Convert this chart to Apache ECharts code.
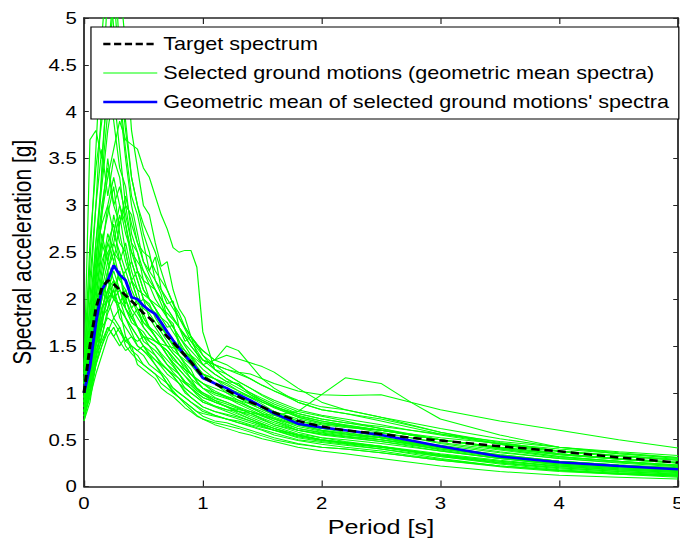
<!DOCTYPE html>
<html>
<head>
<meta charset="utf-8">
<script src="https://cdn.jsdelivr.net/npm/echarts@6/dist/echarts.min.js"></script>
<style>
html,body{margin:0;padding:0;background:#fff;overflow:hidden;width:680px;height:545px;}
#c{width:566.67px;height:545px;transform:scaleX(1.2);transform-origin:0 0;}
</style>
</head>
<body>
<div id="c"></div>
<script>
// ---- data ----
const periods = [0, 0.05, 0.1, 0.15, 0.2, 0.25, 0.3, 0.35, 0.4, 0.45, 0.5, 0.55, 0.6, 0.65, 0.7, 0.75, 0.8, 0.85, 0.9, 0.95, 1.0, 1.1, 1.2, 1.3, 1.4, 1.5, 1.6, 1.8, 2.0, 2.2, 2.5, 2.75, 3.0, 3.5, 4.0, 4.5, 5.0];

const targetSpectrum = [1.0,1.5,1.9,2.12,2.2,2.16,2.1,2.04,1.98,1.92,1.85,1.8,1.74,1.67,1.6,1.54,1.47,1.4,1.33,1.25,1.17,1.1,1.03,0.96,0.9,0.85,0.79,0.7,0.64,0.6,0.56,0.52,0.49,0.43,0.375,0.31,0.255];
const meanSpectrum = [1.0,1.28,1.75,2.1,2.2,2.36,2.26,2.2,2.02,2.0,1.93,1.88,1.84,1.75,1.65,1.56,1.48,1.4,1.33,1.25,1.16,1.1,1.05,0.98,0.92,0.85,0.78,0.67,0.63,0.6,0.55,0.49,0.43,0.32,0.26,0.22,0.185];

const gm01 = [0.95,2.4,3.6,4.8,5.6,4.9,4.2,3.6,3.1,2.9,2.6,2.3,2.45,2.1,1.95,1.98,1.7,1.55,1.6,1.42,1.3,1.2,1.12,1.1,0.98,0.9,0.85,0.74,0.68,0.64,0.58,0.52,0.46,0.37,0.3,0.25,0.21];
const gm02 = [1.1,2.0,3.0,4.1,5.3,5.8,4.6,3.9,3.3,3.0,2.7,2.5,2.2,2.05,1.8,1.74,1.5,1.45,1.38,1.26,1.2,1.1,1.02,0.95,0.88,0.82,0.76,0.66,0.6,0.56,0.5,0.45,0.39,0.3,0.23,0.19,0.16];
const gm03 = [0.85,1.5,2.3,3.4,4.4,5.2,5.4,4.7,3.8,3.4,3.0,2.9,2.6,2.35,2.4,2.1,1.9,1.8,1.6,1.52,1.4,1.25,1.15,1.08,1.0,0.92,0.86,0.75,0.7,0.65,0.6,0.55,0.5,0.42,0.35,0.3,0.26];
const gm04 = [1.2,3.7,3.8,3.5,4.3,3.9,3.4,3.2,2.7,2.5,2.2,2.0,1.9,1.75,1.6,1.52,1.4,1.3,1.2,1.12,1.05,0.95,0.9,0.84,0.78,0.72,0.66,0.58,0.52,0.48,0.43,0.38,0.33,0.26,0.2,0.16,0.13];
const gm05 = [0.9,1.6,2.2,2.9,3.3,3.6,3.9,3.7,3.65,3.6,3.4,3.3,3.1,2.9,2.75,2.55,2.5,2.52,2.52,2.34,1.65,1.25,1.2,1.12,1.05,0.97,0.9,0.8,0.75,0.7,0.62,0.55,0.5,0.4,0.32,0.27,0.23];
const gm06 = [1.0,1.7,2.6,3.2,3.8,4.2,3.6,3.0,2.9,2.6,2.5,2.45,2.3,2.2,2.1,1.95,1.85,1.7,1.6,1.5,1.45,1.35,1.5,1.45,1.3,1.15,1.05,0.9,0.82,0.78,0.7,0.63,0.56,0.46,0.38,0.33,0.29];
const gm07 = [0.75,0.95,1.2,1.4,1.6,1.7,1.55,1.45,1.5,1.3,1.25,1.2,1.15,1.05,1.0,0.96,0.9,0.84,0.8,0.75,0.72,0.68,0.65,0.62,0.58,0.54,0.5,0.45,0.42,0.4,0.36,0.32,0.28,0.21,0.16,0.13,0.1];
const gm08 = [0.8,1.1,1.5,1.9,2.0,1.8,1.9,1.6,1.5,1.45,1.4,1.3,1.25,1.2,1.1,1.0,0.95,0.9,0.85,0.8,0.78,0.75,0.72,0.7,0.66,0.63,0.6,0.55,0.5,0.46,0.42,0.38,0.34,0.27,0.22,0.18,0.15];
const gm09 = [1.05,1.3,1.7,2.2,2.6,2.4,2.8,3.0,2.6,2.3,2.1,2.0,1.9,1.8,1.7,1.72,1.55,1.38,1.4,1.28,1.2,1.1,1.0,0.92,0.85,0.78,0.72,0.62,0.58,0.55,0.52,0.48,0.44,0.36,0.3,0.26,0.22];
const gm10 = [0.9,1.25,1.6,1.8,2.3,2.5,2.2,2.1,1.9,2.0,1.8,1.7,1.6,1.5,1.45,1.35,1.3,1.25,1.2,1.14,1.1,1.0,0.95,0.88,0.82,0.76,0.7,0.6,0.56,0.53,0.5,0.46,0.42,0.34,0.27,0.23,0.2];
const gm11 = [1.3,2.2,3.0,3.6,3.1,3.5,3.3,2.8,2.4,2.2,2.0,1.8,1.7,1.6,1.5,1.42,1.35,1.25,1.15,1.05,1.0,0.92,0.85,0.78,0.72,0.67,0.62,0.55,0.5,0.47,0.42,0.37,0.32,0.24,0.18,0.14,0.12];
const gm12 = [0.7,0.9,1.3,1.6,1.9,2.1,1.8,1.7,1.6,1.55,1.6,1.55,1.5,1.42,1.35,1.28,1.2,1.1,1.05,1.0,0.95,0.9,0.85,0.82,0.8,0.76,0.72,0.66,0.62,0.6,0.57,0.52,0.47,0.39,0.31,0.27,0.23];
const gm13 = [1.0,1.5,2.1,2.7,2.4,2.9,2.6,2.5,2.2,2.0,1.9,1.85,1.75,1.65,1.55,1.45,1.4,1.32,1.25,1.12,1.05,1.0,0.96,0.92,0.88,0.82,0.78,0.7,0.66,0.63,0.6,0.56,0.52,0.46,0.4,0.35,0.31];
const gm14 = [0.95,1.2,1.6,2.0,2.2,2.0,2.3,1.9,1.8,1.7,1.65,1.55,1.5,1.4,1.3,1.22,1.15,1.05,1.0,0.95,0.9,0.85,0.8,0.75,0.7,0.65,0.6,0.52,0.48,0.45,0.4,0.35,0.3,0.22,0.17,0.13,0.11];
const gm15 = [1.15,1.8,2.5,2.8,3.0,2.7,2.5,2.3,2.4,2.2,2.0,1.95,1.8,1.7,1.6,1.5,1.4,1.35,1.3,1.22,1.15,1.1,1.05,1.0,0.95,0.9,0.85,0.78,0.72,0.68,0.64,0.6,0.56,0.48,0.42,0.37,0.33];
const gm16 = [0.85,1.0,1.35,1.7,2.1,2.3,2.1,1.9,1.75,1.7,1.6,1.5,1.4,1.3,1.25,1.18,1.1,1.0,0.95,0.9,0.85,0.8,0.76,0.72,0.68,0.64,0.6,0.53,0.49,0.46,0.42,0.38,0.34,0.27,0.21,0.17,0.14];
const gm17 = [1.0,1.4,1.9,2.4,2.6,2.8,2.4,2.6,2.3,2.1,2.05,2.0,1.9,1.8,1.75,1.65,1.55,1.45,1.35,1.28,1.2,1.15,1.1,1.02,0.95,0.88,0.8,0.7,0.64,0.6,0.53,0.47,0.42,0.33,0.27,0.23,0.19];
const gm18 = [0.8,1.2,1.7,2.0,2.3,2.0,1.95,2.1,1.9,1.8,1.7,1.62,1.55,1.5,1.45,1.38,1.3,1.22,1.15,1.1,1.05,0.98,0.94,0.9,0.84,0.78,0.73,0.64,0.59,0.56,0.52,0.47,0.42,0.33,0.26,0.22,0.18];
const gm19 = [1.1,1.6,2.0,2.5,3.0,3.3,3.0,2.7,2.5,2.4,2.3,2.15,2.0,1.9,1.8,1.7,1.6,1.52,1.45,1.38,1.3,1.2,1.12,1.05,0.98,0.92,0.86,0.76,0.7,0.66,0.6,0.55,0.5,0.41,0.34,0.29,0.25];
const gm20 = [0.9,1.1,1.5,1.8,1.9,2.2,2.0,1.8,1.65,1.5,1.45,1.38,1.3,1.22,1.15,1.05,1.0,0.95,0.9,0.86,0.82,0.76,0.72,0.68,0.64,0.6,0.55,0.49,0.45,0.42,0.38,0.33,0.29,0.22,0.17,0.14,0.11];
const gm21 = [1.0,1.3,1.8,2.2,2.5,2.6,2.9,2.5,2.2,2.3,2.1,2.0,1.95,1.9,1.85,1.78,1.7,1.6,1.5,1.42,1.35,1.3,1.25,1.2,1.15,1.08,1.02,0.9,0.82,0.78,0.72,0.65,0.58,0.47,0.38,0.33,0.28];
const gm22 = [0.85,1.2,1.55,1.9,2.1,2.0,1.9,1.8,1.7,1.6,1.5,1.42,1.35,1.28,1.2,1.15,1.1,1.05,1.0,0.95,0.9,0.86,0.82,0.8,0.78,0.77,0.76,0.8,0.98,1.16,1.1,0.9,0.72,0.55,0.42,0.35,0.3];
const gm23 = [0.75,1.0,1.4,1.55,1.7,1.6,1.5,1.6,1.45,1.4,1.3,1.25,1.2,1.1,1.05,1.0,0.95,0.9,0.85,0.8,0.75,0.7,0.68,0.64,0.6,0.56,0.52,0.46,0.42,0.4,0.36,0.32,0.28,0.22,0.17,0.14,0.12];
const gm24 = [1.2,1.9,2.6,3.3,4.0,4.6,4.1,3.5,3.0,2.7,2.4,2.25,2.1,1.95,1.8,1.7,1.6,1.5,1.4,1.32,1.25,1.15,1.05,0.98,0.9,0.84,0.78,0.68,0.62,0.58,0.52,0.46,0.41,0.32,0.25,0.21,0.17];
const gm25 = [0.95,1.3,1.65,2.1,2.4,2.2,2.1,2.0,1.8,1.9,1.75,1.7,1.65,1.58,1.5,1.42,1.35,1.28,1.2,1.15,1.1,1.05,1.0,0.95,0.9,0.85,0.8,0.72,0.67,0.64,0.6,0.55,0.5,0.42,0.35,0.3,0.26];
const gm26 = [1.05,1.45,2.0,2.6,2.9,3.2,2.7,2.4,2.2,2.1,1.85,1.7,1.6,1.5,1.4,1.32,1.25,1.18,1.12,1.05,1.0,0.94,0.9,0.85,0.8,0.75,0.7,0.62,0.57,0.54,0.5,0.45,0.4,0.31,0.24,0.2,0.17];
const gm27 = [0.8,1.05,1.4,1.75,2.0,2.1,2.3,2.0,1.85,1.7,1.55,1.5,1.45,1.38,1.3,1.25,1.2,1.12,1.08,1.02,0.98,0.9,0.85,0.8,0.74,0.69,0.64,0.56,0.52,0.5,0.46,0.42,0.38,0.3,0.24,0.2,0.17];
const gm28 = [1.0,1.6,2.3,2.6,2.4,2.7,3.0,2.8,2.5,2.3,2.2,2.15,2.1,2.0,1.9,1.8,1.7,1.6,1.5,1.42,1.35,1.3,1.25,1.22,1.2,1.15,1.1,1.02,0.98,0.97,0.98,0.9,0.82,0.7,0.6,0.5,0.41];
const gm29 = [0.9,1.2,1.5,1.7,1.8,1.75,1.65,1.55,1.6,1.5,1.45,1.4,1.35,1.3,1.25,1.2,1.15,1.1,1.05,1.0,0.95,0.9,0.86,0.8,0.76,0.71,0.66,0.6,0.56,0.53,0.48,0.44,0.4,0.33,0.27,0.23,0.2];
const gm30 = [1.1,1.5,2.2,2.9,3.5,3.0,3.2,2.9,2.6,2.5,2.3,2.2,2.1,2.0,1.9,1.8,1.7,1.62,1.55,1.48,1.4,1.3,1.2,1.12,1.05,0.98,0.92,0.82,0.76,0.72,0.66,0.6,0.55,0.45,0.37,0.32,0.28];
const gm31 = [0.7,1.0,1.3,1.5,1.65,1.8,1.7,1.5,1.42,1.35,1.3,1.25,1.2,1.15,1.1,1.05,1.0,0.95,0.9,0.85,0.8,0.76,0.72,0.68,0.65,0.61,0.57,0.5,0.47,0.44,0.4,0.36,0.32,0.25,0.2,0.16,0.13];
const gm32 = [1.25,2.6,3.4,3.9,4.6,5.3,4.4,3.8,3.3,3.0,2.8,2.65,2.5,2.3,2.1,1.95,1.8,1.68,1.55,1.45,1.35,1.25,1.15,1.08,1.0,0.94,0.88,0.78,0.72,0.68,0.62,0.56,0.5,0.4,0.32,0.27,0.22];
const gm33 = [0.9,1.35,1.8,2.3,2.7,2.5,2.4,2.2,2.0,1.9,1.7,1.62,1.55,1.5,1.45,1.38,1.3,1.25,1.2,1.15,1.1,1.02,0.96,0.9,0.85,0.8,0.74,0.66,0.6,0.57,0.52,0.47,0.42,0.34,0.27,0.22,0.19];
const gm34 = [1.0,1.4,1.85,2.2,2.0,2.4,2.2,2.3,2.1,1.95,2.0,1.92,1.85,1.72,1.6,1.52,1.45,1.38,1.3,1.25,1.2,1.15,1.08,1.02,0.96,0.9,0.84,0.74,0.68,0.65,0.6,0.55,0.5,0.41,0.34,0.29,0.25];
const gm35 = [0.8,1.15,1.45,1.6,1.85,2.0,2.1,1.95,2.2,2.0,1.8,1.7,1.6,1.5,1.4,1.32,1.25,1.18,1.1,1.04,0.98,0.92,0.88,0.83,0.78,0.73,0.68,0.6,0.55,0.52,0.48,0.43,0.38,0.3,0.23,0.19,0.16];
const gm36 = [1.1,1.7,2.4,3.0,3.4,3.0,2.8,3.1,2.8,2.6,2.4,2.3,2.2,2.1,2.0,1.9,1.8,1.7,1.6,1.52,1.45,1.35,1.3,1.22,1.15,1.08,1.02,0.92,0.85,0.82,0.74,0.68,0.62,0.51,0.42,0.36,0.31];
const gm37 = [0.75,1.0,1.3,1.5,1.7,1.6,1.7,1.55,1.5,1.45,1.5,1.45,1.4,1.32,1.25,1.18,1.1,1.02,0.95,0.9,0.85,0.8,0.77,0.74,0.7,0.66,0.62,0.55,0.5,0.47,0.43,0.39,0.35,0.28,0.22,0.18,0.15];
const gm38 = [0.95,1.3,1.75,2.0,2.3,2.6,2.4,2.2,2.0,1.85,1.75,1.68,1.6,1.5,1.4,1.3,1.2,1.12,1.05,0.98,0.92,0.86,0.82,0.77,0.72,0.67,0.62,0.54,0.5,0.47,0.43,0.38,0.33,0.25,0.19,0.15,0.12];
const gm39 = [0.85,1.2,1.6,1.9,2.1,2.2,2.0,1.9,1.8,1.7,1.6,1.58,1.55,1.52,1.5,1.48,1.45,1.42,1.4,1.35,1.3,1.35,1.4,1.36,1.32,1.28,1.22,1.05,0.9,0.82,0.74,0.66,0.58,0.45,0.35,0.29,0.25];
const gm40 = [0.8,1.1,1.5,1.8,2.0,2.1,1.9,1.8,1.7,1.6,1.5,1.4,1.3,1.2,1.1,1.02,0.95,0.88,0.82,0.76,0.72,0.66,0.62,0.58,0.55,0.51,0.48,0.42,0.38,0.35,0.3,0.26,0.22,0.16,0.12,0.1,0.08];

const groundMotions = [gm01,gm02,gm03,gm04,gm05,gm06,gm07,gm08,gm09,gm10,gm11,gm12,gm13,gm14,gm15,gm16,gm17,gm18,gm19,gm20,
                       gm21,gm22,gm23,gm24,gm25,gm26,gm27,gm28,gm29,gm30,gm31,gm32,gm33,gm34,gm35,gm36,gm37,gm38,gm39,gm40];

const xTicks = [0, 1, 2, 3, 4, 5];
const yTicks = [0, 0.5, 1, 1.5, 2, 2.5, 3, 3.5, 4, 4.5, 5];

const NAME_TARGET = 'Target spectrum';
const NAME_SELECTED = 'Selected ground motions (geometric mean spectra)';
const NAME_MEAN = "Geometric mean of selected ground motions' spectra";
const X_TITLE = 'Period [s]';
const Y_TITLE = 'Spectral acceleration [g]';

// ---- chart ----
const FONT = '"Liberation Sans", Arial, Helvetica, sans-serif';
const AX = '#262626';
const toXY = arr => periods.map((p, i) => [p, arr[i]]);

const series = [];
groundMotions.forEach(g => {
  series.push({
    type: 'line', name: NAME_SELECTED, data: toXY(g),
    symbol: 'none', silent: true, z: 2,
    lineStyle: { color: '#00ff00', width: 1 },
    itemStyle: { color: '#00ff00' }
  });
});
series.push({
  type: 'line', name: NAME_MEAN, data: toXY(meanSpectrum),
  symbol: 'none', z: 3,
  lineStyle: { color: '#0000ff', width: 2.5 },
  itemStyle: { color: '#0000ff' }
});
series.push({
  type: 'line', name: NAME_TARGET, data: toXY(targetSpectrum),
  symbol: 'none', z: 4,
  lineStyle: { color: '#000000', width: 2.5, type: [7, 4] },
  itemStyle: { color: '#000000' }
});

const xMin = xTicks[0], xMax = xTicks[xTicks.length - 1], xInt = xTicks[1] - xTicks[0];
const yMin = yTicks[0], yMax = yTicks[yTicks.length - 1], yInt = yTicks[1] - yTicks[0];

const axisLine = { show: true, onZero: false, lineStyle: { color: AX, width: 1.5 } };
const hiddenSymbol = { color: 'rgba(0,0,0,0)', borderWidth: 0, opacity: 0 };

const chart = echarts.init(document.getElementById('c'), null, { renderer: 'svg' });
chart.setOption({
  animation: false,
  backgroundColor: '#ffffff',
  grid: { left: 70, top: 18, width: 495, height: 468.5, containLabel: false, outerBoundsMode: 'none' },
  legend: {
    orient: 'vertical', left: 75.8, top: 27, z: 10,
    padding: [7, 8, 7, 9],
    itemWidth: 45, itemHeight: 14, itemGap: 9,
    backgroundColor: '#ffffff', borderColor: '#000000', borderWidth: 1, borderRadius: 0,
    textStyle: { fontSize: 18, fontFamily: FONT, color: '#000', lineHeight: 20 },
    selectedMode: false,
    data: [
      { name: NAME_TARGET, itemStyle: hiddenSymbol, lineStyle: { width: 2.5, type: [6, 3], color: '#000' } },
      { name: NAME_SELECTED, itemStyle: hiddenSymbol, lineStyle: { width: 1, color: '#00ff00' } },
      { name: NAME_MEAN, itemStyle: hiddenSymbol, lineStyle: { width: 2.5, color: '#0000ff' } }
    ]
  },
  xAxis: [
    {
      type: 'value', min: xMin, max: xMax, interval: xInt, position: 'bottom',
      axisLine: axisLine,
      axisTick: { show: true, inside: true, length: 6, lineStyle: { color: AX, width: 1 } },
      axisLabel: { fontSize: 17, fontFamily: FONT, color: '#000', margin: 8 },
      splitLine: { show: false },
      name: X_TITLE, nameLocation: 'middle', nameGap: 25,
      nameTextStyle: { fontSize: 21, fontFamily: FONT, color: '#000' }
    },
    {
      type: 'value', min: xMin, max: xMax, interval: xInt, position: 'top',
      axisLine: axisLine,
      axisTick: { show: true, inside: true, length: 6, lineStyle: { color: AX, width: 1 } },
      axisLabel: { show: false }, splitLine: { show: false }
    }
  ],
  yAxis: [
    {
      type: 'value', min: yMin, max: yMax, interval: yInt, position: 'left',
      axisLine: axisLine,
      axisTick: { show: true, inside: true, length: 4, lineStyle: { color: AX, width: 1 } },
      axisLabel: { fontSize: 17, fontFamily: FONT, color: '#000', margin: 6 },
      splitLine: { show: false },
      name: Y_TITLE, nameLocation: 'middle', nameGap: 40, nameRotate: 90,
      nameTextStyle: { fontSize: 21, fontFamily: FONT, color: '#000' }
    },
    {
      type: 'value', min: yMin, max: yMax, interval: yInt, position: 'right',
      axisLine: axisLine,
      axisTick: { show: true, inside: true, length: 4, lineStyle: { color: AX, width: 1 } },
      axisLabel: { show: false }, splitLine: { show: false }
    }
  ],
  series: series
});
</script>
</body>
</html>
